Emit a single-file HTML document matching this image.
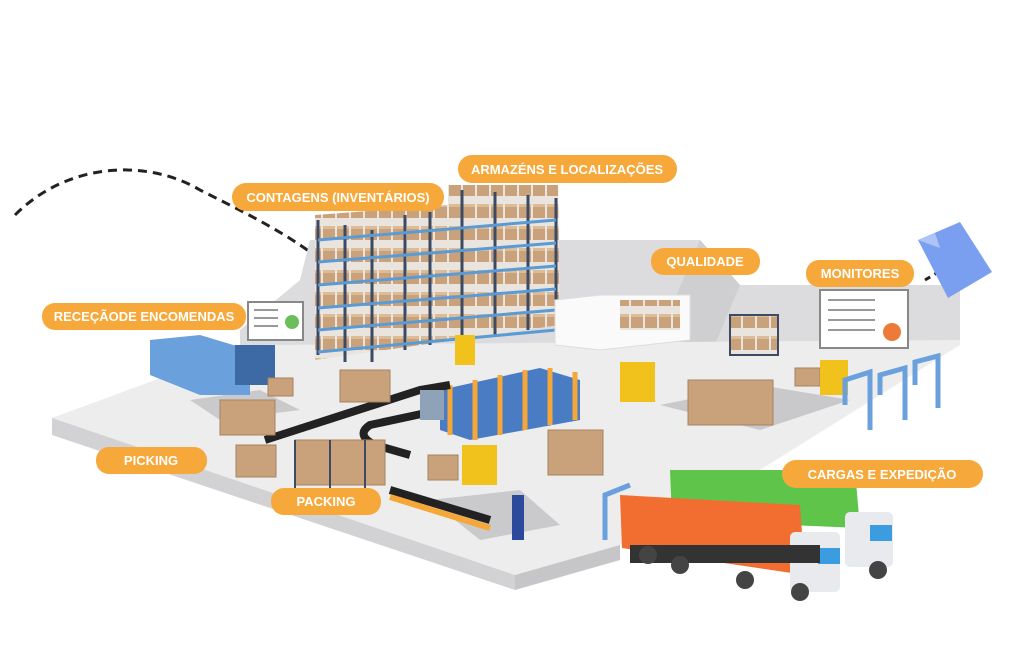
<!DOCTYPE html>
<html><head><meta charset="utf-8"><style>
html,body{margin:0;padding:0;background:#fff;width:1024px;height:666px;overflow:hidden}
svg{display:block}
.lb{font-family:"Liberation Sans",sans-serif;font-weight:bold;font-size:13px;fill:#fff}
</style></head><body>
<svg width="1024" height="666" viewBox="0 0 1024 666" xmlns="http://www.w3.org/2000/svg">
<defs>
<pattern id="bx" width="14" height="22" patternUnits="userSpaceOnUse">
<rect width="14" height="22" fill="#e9e4de"/>
<rect x="1" y="6" width="12" height="14" fill="#c9a27c"/>
<rect x="1" y="6" width="12" height="3" fill="#dcbb97"/>
</pattern>
</defs>
<path d="M15,215 C70,160 150,160 200,190 C240,210 280,230 310,252" fill="none" stroke="#222" stroke-width="3" stroke-dasharray="9,6"/>
<path d="M925,280 L945,268" stroke="#222" stroke-width="3" stroke-dasharray="6,5"/>
<polygon points="240,330 300,280 310,240 700,240 740,285 960,285 960,340 860,390 240,390" fill="#dcdcde"/>
<polygon points="700,240 740,285 700,380 640,380" fill="#cfcfd2"/>
<polygon points="52,418 250,345 960,340 960,345 760,470 620,545 515,575" fill="#ededee"/>
<polygon points="52,418 52,435 515,590 515,575" fill="#d2d2d4"/>
<polygon points="515,575 515,590 620,560 620,545" fill="#c6c6c8"/>
<polygon points="660,405 760,385 850,400 760,430" fill="#c9c9cb"/>
<polygon points="430,500 520,490 560,525 480,540" fill="#cacacc"/>
<polygon points="190,400 260,390 300,410 220,420" fill="#cacacc"/>
<polygon points="918,240 960,222 992,272 948,298" fill="#7b9ff0"/>
<polygon points="918,240 935,233 940,248" fill="#aec4f7"/>
<g>
<polygon points="315,215 448,205 448,185 558,185 560,325 315,360" fill="url(#bx)"/>
<g stroke="#3c4a63" stroke-width="3">
<line x1="318" y1="220" x2="318" y2="355"/><line x1="345" y1="225" x2="345" y2="362"/><line x1="372" y1="230" x2="372" y2="362"/>
<line x1="405" y1="215" x2="405" y2="350"/><line x1="430" y1="212" x2="430" y2="345"/><line x1="462" y1="190" x2="462" y2="340"/>
<line x1="495" y1="192" x2="495" y2="335"/><line x1="528" y1="195" x2="528" y2="330"/><line x1="556" y1="198" x2="556" y2="325"/>
</g>
<g stroke="#5b9bd5" stroke-width="3">
<line x1="318" y1="240" x2="556" y2="220"/><line x1="318" y1="262" x2="556" y2="243"/><line x1="318" y1="285" x2="556" y2="266"/>
<line x1="318" y1="308" x2="556" y2="289"/><line x1="318" y1="330" x2="556" y2="310"/><line x1="318" y1="352" x2="556" y2="330"/>
</g>
</g>
<polygon points="555,300 600,295 690,295 690,340 600,350 555,345" fill="#fafafa" stroke="#ddd"/>
<rect x="620" y="300" width="60" height="30" fill="url(#bx)"/>
<rect x="248" y="302" width="55" height="38" fill="#fff" stroke="#888" stroke-width="2"/>
<g stroke="#999" stroke-width="2"><line x1="254" y1="310" x2="278" y2="310"/><line x1="254" y1="318" x2="278" y2="318"/><line x1="254" y1="326" x2="278" y2="326"/></g>
<circle cx="292" cy="322" r="7" fill="#6bbf59"/>
<rect x="820" y="290" width="88" height="58" fill="#fff" stroke="#888" stroke-width="2"/>
<g stroke="#999" stroke-width="2"><line x1="828" y1="300" x2="875" y2="300"/><line x1="828" y1="310" x2="875" y2="310"/><line x1="828" y1="320" x2="875" y2="320"/><line x1="828" y1="330" x2="875" y2="330"/></g>
<circle cx="892" cy="332" r="9" fill="#ee7a3a"/>
<polygon points="150,340 200,335 250,350 250,395 200,395 150,375" fill="#6aa0dc"/>
<rect x="235" y="345" width="40" height="40" fill="#3d6aa4"/>
<rect x="730" y="315" width="48" height="40" fill="url(#bx)" stroke="#3c4a63" stroke-width="2"/>
<polygon points="440,390 540,368 580,380 580,420 470,440 440,430" fill="#4a7cc4"/>
<g stroke="#f5a738" stroke-width="5"><line x1="450" y1="385" x2="450" y2="435"/><line x1="475" y1="380" x2="475" y2="440"/><line x1="500" y1="375" x2="500" y2="435"/><line x1="525" y1="370" x2="525" y2="430"/><line x1="550" y1="368" x2="550" y2="425"/><line x1="575" y1="372" x2="575" y2="420"/></g>
<path d="M265,440 L420,390 L450,385" stroke="#222" stroke-width="8" fill="none"/>
<path d="M440,410 L370,425 Q355,435 375,445 L410,455" stroke="#222" stroke-width="8" fill="none"/>
<path d="M390,490 L490,520" stroke="#222" stroke-width="8"/>
<path d="M390,497 L490,528" stroke="#f5a738" stroke-width="6"/>
<rect x="420" y="390" width="24" height="30" fill="#8fa3b8"/>
<g fill="#c9a27c" stroke="#a8825e">
<rect x="220" y="400" width="55" height="35"/><rect x="340" y="370" width="50" height="32"/>
<rect x="236" y="445" width="40" height="32"/><rect x="688" y="380" width="85" height="45"/>
<rect x="548" y="430" width="55" height="45"/><rect x="428" y="455" width="30" height="25"/>
<rect x="268" y="378" width="25" height="18"/><rect x="795" y="368" width="25" height="18"/>
<rect x="295" y="440" width="90" height="45"/>
</g>
<g stroke="#3c4a63" stroke-width="2"><line x1="295" y1="440" x2="295" y2="488"/><line x1="330" y1="440" x2="330" y2="488"/><line x1="365" y1="440" x2="365" y2="488"/></g>
<g fill="#f1c21b"><rect x="455" y="335" width="20" height="30"/><rect x="620" y="362" width="35" height="40"/><rect x="462" y="445" width="35" height="40"/><rect x="820" y="360" width="28" height="35"/></g>
<g stroke="#6aa0dc" stroke-width="5" fill="none"><path d="M845,405 L845,380 L870,372 L870,430"/><path d="M880,395 L880,375 L905,368 L905,420"/><path d="M915,385 L915,362 L938,356 L938,408"/><path d="M605,540 L605,495 L630,485"/></g>
<polygon points="670,470 855,470 860,528 672,520" fill="#5fc44a"/>
<rect x="845" y="512" width="48" height="55" rx="5" fill="#e8eaee"/>
<rect x="870" y="525" width="22" height="16" fill="#3c9ce0"/>
<polygon points="620,495 800,505 805,575 622,548" fill="#f26d30"/>
<rect x="790" y="532" width="50" height="60" rx="5" fill="#e8eaee"/>
<rect x="818" y="548" width="22" height="16" fill="#3c9ce0"/>
<rect x="630" y="545" width="190" height="18" fill="#333"/>
<g fill="#444"><circle cx="648" cy="555" r="9"/><circle cx="680" cy="565" r="9"/><circle cx="745" cy="580" r="9"/><circle cx="800" cy="592" r="9"/><circle cx="878" cy="570" r="9"/></g>
<rect x="512" y="495" width="12" height="45" fill="#2c4a9c"/>
<g fill="#f6a83a">
<rect x="232" y="183" width="212" height="28" rx="14"/>
<rect x="458" y="155" width="219" height="28" rx="14"/>
<rect x="651" y="248" width="109" height="27" rx="13"/>
<rect x="806" y="260" width="108" height="27" rx="13"/>
<rect x="42" y="303" width="204" height="27" rx="13"/>
<rect x="96" y="447" width="111" height="27" rx="13"/>
<rect x="271" y="488" width="110" height="27" rx="13"/>
<rect x="782" y="460" width="201" height="28" rx="14"/>
</g>
<g class="lb" text-anchor="middle">
<text x="338" y="202">CONTAGENS (INVENTÁRIOS)</text>
<text x="567" y="174">ARMAZÉNS E LOCALIZAÇÕES</text>
<text x="705" y="266">QUALIDADE</text>
<text x="860" y="278">MONITORES</text>
<text x="144" y="321">RECEÇÃODE ENCOMENDAS</text>
<text x="151" y="465">PICKING</text>
<text x="326" y="506">PACKING</text>
<text x="882" y="479">CARGAS E EXPEDIÇÃO</text>
</g>
</svg>
</body></html>
